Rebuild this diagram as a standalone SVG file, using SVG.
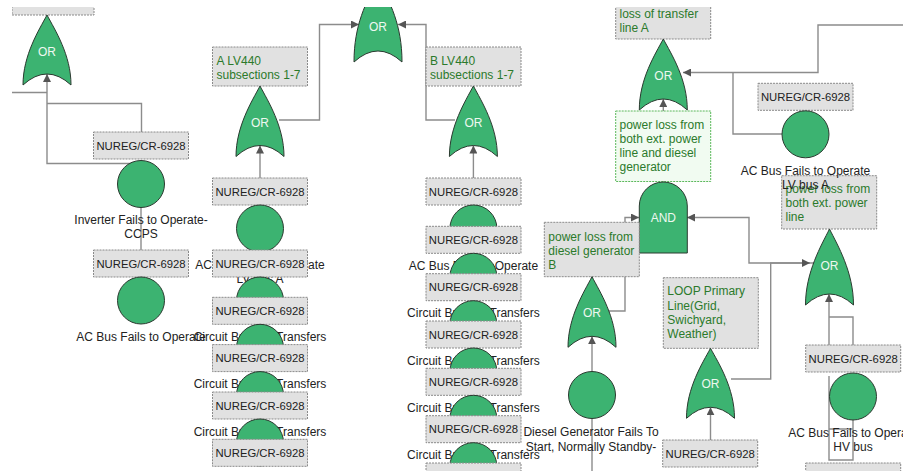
<svg xmlns="http://www.w3.org/2000/svg" width="903" height="471" viewBox="0 0 903 471">
<style>
  text { font-family: "Liberation Sans", Arial, sans-serif; font-size: 12px; }
  .edge { fill: none; stroke: #8c8c8c; stroke-width: 1.4; }
  .arr { marker-end: url(#ah); }
  .gate { fill: #3cb371; stroke: #2b3a30; stroke-width: 1; }
  .glab { fill: #eef8f0; text-anchor: middle; }
  .ev { fill: #3cb371; stroke: #2b3a30; stroke-width: 1; }
  .ref { fill: #e1e1e1; stroke: #8a8a8a; stroke-width: 1; stroke-dasharray: 2 1; }
  .reft { fill: #222; font-size: 11.3px; text-anchor: middle; }
  .desc { fill: #222; text-anchor: middle; }
  .gt { fill: #2b7a2b; }
  .note { fill: #f1fbf1; stroke: #5cb85c; stroke-width: 1; stroke-dasharray: 2 1; }
</style>
<defs>
  <marker id="ah" viewBox="0 0 8 8" refX="8" refY="4" markerWidth="8" markerHeight="8" markerUnits="userSpaceOnUse" orient="auto">
    <path d="M0,0 L8,4 L0,8 Z" fill="#555"/>
  </marker>
  <clipPath id="view"><rect x="12" y="7" width="891" height="464"/></clipPath>
</defs>
<rect width="903" height="471" fill="#fff"/>
<g clip-path="url(#view)">

<!-- connectors -->
<g id="connectors">
  <path class="edge" d="M12,92.5 H47"/>
  <path class="edge arr" d="M141,163.5 H47 V74"/>
  <path class="edge" d="M141.5,132 V103.5 H47"/>
  <path class="edge" d="M141,207 V250"/>
  <path class="edge arr" d="M260,178 V145.5"/>
  <path class="edge arr" d="M279,120 H319.5 V24.5 H359"/>
  <path class="edge arr" d="M455,120 H426 V24.5 H398"/>
  <path class="edge arr" d="M473.4,178 V145.5"/>
  <path class="edge arr" d="M903,25 H818 V72.5 H683"/>
  <path class="edge" d="M805,134 H733 V72.5"/>
  <path class="edge arr" d="M663.3,182 V99"/>
  <path class="edge arr" d="M606,311 H625 V217.5 H639"/>
  <path class="edge arr" d="M829,263 H749 V217.5 H687"/>
  <path class="edge arr" d="M731,379 H770.7 V263 H810"/>
  <path class="edge arr" d="M710.5,440 V407.3"/>
  <path class="edge arr" d="M592,372 V336.3"/>
  <path class="edge" d="M592,418 V471"/>
  <path class="edge arr" d="M829,345 V294"/>
  <path class="edge" d="M853,345 V317 H829"/>
  <path class="edge" d="M829,376 V460 H853 V418 M829,429 H853"/>
</g>

<!-- left branch -->
<g id="top-left-ref">
  <rect class="ref" x="12" y="-12" width="82" height="27"/>
</g>
<g id="or-left">
  <path class="gate" d="M23,85 C23,55 39,30 47,15 C55,30 71,55 71,85 Q47,63 23,85 Z"/>
  <text class="glab" x="47" y="56">OR</text>
</g>
<g id="inverter-ccps">
  <rect class="ref" x="93.5" y="132" width="95" height="27"/>
  <text class="reft" x="141" y="149.5">NUREG/CR-6928</text>
  <circle class="ev" cx="141" cy="184" r="23.5"/>
  <text class="desc" x="141" y="224">Inverter Fails to Operate-</text>
  <text class="desc" x="141" y="238">CCPS</text>
</g>
<g id="acbus-left">
  <rect class="ref" x="93.5" y="250" width="95" height="27"/>
  <text class="reft" x="141" y="267.5">NUREG/CR-6928</text>
  <circle class="ev" cx="141" cy="300.5" r="23.5"/>
  <text class="desc" x="141" y="341">AC Bus Fails to Operate</text>
</g>

<!-- top OR -->
<g id="or-top">
  <path class="gate" d="M354,62 C354,25 366,2 378,-20 C390,2 402,25 402,62 Q378,40 354,62 Z"/>
  <text class="glab" x="378" y="31">OR</text>
</g>

<!-- LV440 A branch -->
<g id="lv440-a">
  <rect class="ref" x="212.5" y="47" width="95" height="39"/>
  <text class="gt" x="216.5" y="65.3">A LV440</text>
  <text class="gt" x="216.5" y="78.6">subsections 1-7</text>
  <path class="gate" d="M236,156.5 C236,126.5 252,101 260,86 C268,101 284,126.5 284,156.5 Q260,134.5 236,156.5 Z"/>
  <text class="glab" x="260" y="127">OR</text>
</g>
<g id="a-acbus">
  <rect class="ref" x="212.5" y="178" width="95" height="27"/>
  <text class="reft" x="260" y="195.5">NUREG/CR-6928</text>
  <circle class="ev" cx="260" cy="228.5" r="23.5"/>
  <text class="desc" x="260" y="269">AC Bus Fails to Operate</text>
  <text class="desc" x="260" y="283">LV bus A</text>
</g>
<g id="a-cb1">
  <rect class="ref" x="212.5" y="250" width="95" height="27"/>
  <text class="reft" x="260" y="267.5">NUREG/CR-6928</text>
  <circle class="ev" cx="260" cy="300.5" r="23.5"/>
  <text class="desc" x="260" y="341">Circuit Breaker Transfers</text>
</g>
<g id="a-cb2">
  <rect class="ref" x="212.5" y="297.3" width="95" height="27"/>
  <text class="reft" x="260" y="314.8">NUREG/CR-6928</text>
  <circle class="ev" cx="260" cy="347.8" r="23.5"/>
  <text class="desc" x="260" y="388.3">Circuit Breaker Transfers</text>
</g>
<g id="a-cb3">
  <rect class="ref" x="212.5" y="344.6" width="95" height="27"/>
  <text class="reft" x="260" y="362.1">NUREG/CR-6928</text>
  <circle class="ev" cx="260" cy="395.1" r="23.5"/>
  <text class="desc" x="260" y="435.6">Circuit Breaker Transfers</text>
</g>
<g id="a-cb4">
  <rect class="ref" x="212.5" y="392" width="95" height="27"/>
  <text class="reft" x="260" y="409.5">NUREG/CR-6928</text>
  <circle class="ev" cx="260" cy="442.5" r="23.5"/>
</g>
<g id="a-cb5">
  <rect class="ref" x="212.5" y="439.3" width="95" height="27"/>
  <text class="reft" x="260" y="456.8">NUREG/CR-6928</text>
</g>

<!-- LV440 B branch -->
<g id="lv440-b">
  <rect class="ref" x="426" y="47" width="95" height="39"/>
  <text class="gt" x="430" y="65.3">B LV440</text>
  <text class="gt" x="430" y="78.6">subsections 1-7</text>
  <path class="gate" d="M449.4,156.5 C449.4,126.5 465.4,101 473.4,86 C481.4,101 497.4,126.5 497.4,156.5 Q473.4,134.5 449.4,156.5 Z"/>
  <text class="glab" x="473.4" y="127">OR</text>
</g>
<g id="b-acbus">
  <rect class="ref" x="426" y="178" width="95" height="27"/>
  <text class="reft" x="473.4" y="195.5">NUREG/CR-6928</text>
  <circle class="ev" cx="473.4" cy="228.5" r="23.5"/>
  <text class="desc" x="473.4" y="269.5">AC Bus Fails to Operate</text>
</g>
<g id="b-cb1">
  <rect class="ref" x="426" y="226.3" width="95" height="27"/>
  <text class="reft" x="473.4" y="243.8">NUREG/CR-6928</text>
  <circle class="ev" cx="473.4" cy="276.8" r="23.5"/>
  <text class="desc" x="473.4" y="317.3">Circuit Breaker Transfers</text>
</g>
<g id="b-cb2">
  <rect class="ref" x="426" y="273.7" width="95" height="27"/>
  <text class="reft" x="473.4" y="291.2">NUREG/CR-6928</text>
  <circle class="ev" cx="473.4" cy="324.2" r="23.5"/>
  <text class="desc" x="473.4" y="364.7">Circuit Breaker Transfers</text>
</g>
<g id="b-cb3">
  <rect class="ref" x="426" y="321" width="95" height="27"/>
  <text class="reft" x="473.4" y="338.5">NUREG/CR-6928</text>
  <circle class="ev" cx="473.4" cy="371.5" r="23.5"/>
  <text class="desc" x="473.4" y="412">Circuit Breaker Transfers</text>
</g>
<g id="b-cb4">
  <rect class="ref" x="426" y="368.3" width="95" height="27"/>
  <text class="reft" x="473.4" y="385.8">NUREG/CR-6928</text>
  <circle class="ev" cx="473.4" cy="418.8" r="23.5"/>
  <text class="desc" x="473.4" y="459.3">Circuit Breaker Transfers</text>
</g>
<g id="b-cb5">
  <rect class="ref" x="426" y="415.7" width="95" height="27"/>
  <text class="reft" x="473.4" y="433.2">NUREG/CR-6928</text>
  <circle class="ev" cx="473.4" cy="466.2" r="23.5"/>
</g>
<g id="b-cb6">
  <rect class="ref" x="426" y="463" width="95" height="27"/>
</g>

<!-- transfer line A -->
<g id="transfer-a">
  <rect class="ref" x="615.7" y="-6" width="95" height="45"/>
  <text class="gt" x="619.5" y="17.5">loss of transfer</text>
  <text class="gt" x="619.5" y="31.5">line A</text>
  <path class="gate" d="M639.3,110 C639.3,79 655.3,54 663.3,39 C671.3,54 687.3,79 687.3,110 Q663.3,88 639.3,110 Z"/>
  <text class="glab" x="663.3" y="79.5">OR</text>
</g>
<g id="both-loss">
  <rect class="note" x="615.7" y="111" width="95" height="70.5"/>
  <text class="gt" x="619.5" y="128.5">power loss from</text>
  <text class="gt" x="619.5" y="142.8">both ext. power</text>
  <text class="gt" x="619.5" y="157">line and diesel</text>
  <text class="gt" x="619.5" y="171.3">generator</text>
  <path class="gate" d="M639.3,253 V206 A24,24 0 0 1 687.3,206 V253 Z"/>
  <text class="glab" x="663.3" y="221.8">AND</text>
</g>
<g id="ext-line">
  <rect class="ref" x="781.7" y="175.7" width="95" height="53.3"/>
  <text class="gt" x="785.5" y="192.5">power loss from</text>
  <text class="gt" x="785.5" y="206.8">both ext. power</text>
  <text class="gt" x="785.5" y="221">line</text>
  <path class="gate" d="M805.5,305 C805.5,272 821.5,245 829.5,229 C837.5,245 853.5,272 853.5,305 Q829.5,283 805.5,305 Z"/>
  <text class="glab" x="829.5" y="269.5">OR</text>
</g>
<g id="acbus-lv-a">
  <rect class="ref" x="758" y="83.3" width="95" height="27"/>
  <text class="reft" x="805.5" y="100.8">NUREG/CR-6928</text>
  <circle class="ev" cx="805.5" cy="134.3" r="23.5"/>
  <text class="desc" x="805.5" y="175.3">AC Bus Fails to Operate</text>
  <text class="desc" x="805.5" y="189.3">LV bus A</text>
</g>

<!-- diesel generator B -->
<g id="diesel-b">
  <rect class="ref" x="544.3" y="222.3" width="95" height="54.4"/>
  <text class="gt" x="548.3" y="240.8">power loss from</text>
  <text class="gt" x="548.3" y="255">diesel generator</text>
  <text class="gt" x="548.3" y="269.2">B</text>
  <path class="gate" d="M568,347.3 C568,317 584,292 592,276.7 C600,292 616,317 616,347.3 Q592,325.3 568,347.3 Z"/>
  <text class="glab" x="592" y="316.5">OR</text>
</g>
<g id="diesel-start">
  <circle class="ev" cx="592" cy="395" r="23.5"/>
  <text class="desc" x="591" y="436.3">Diesel Generator Fails To</text>
  <text class="desc" x="591" y="450.6">Start, Normally Standby-</text>
</g>

<!-- LOOP primary line -->
<g id="loop-primary">
  <rect class="ref" x="663.3" y="277.7" width="95" height="70.6"/>
  <text class="gt" x="667.3" y="295.3">LOOP Primary</text>
  <text class="gt" x="667.3" y="309.6">Line(Grid,</text>
  <text class="gt" x="667.3" y="323.9">Swichyard,</text>
  <text class="gt" x="667.3" y="338.2">Weather)</text>
  <path class="gate" d="M686.5,418.3 C686.5,388 702.5,363 710.5,348.3 C718.5,363 734.5,388 734.5,418.3 Q710.5,396.3 686.5,418.3 Z"/>
  <text class="glab" x="710.5" y="388">OR</text>
</g>
<g id="loop-ref">
  <rect class="ref" x="662.7" y="440" width="95" height="27"/>
  <text class="reft" x="710.2" y="457.5">NUREG/CR-6928</text>
</g>

<!-- HV bus -->
<g id="acbus-hv">
  <rect class="ref" x="805.7" y="345" width="95" height="27"/>
  <text class="reft" x="853.2" y="362.5">NUREG/CR-6928</text>
  <circle class="ev" cx="853" cy="396.5" r="23.5"/>
  <text class="desc" x="853" y="436.7">AC Bus Fails to Operate</text>
  <text class="desc" x="853" y="451">HV bus</text>
</g>
<g id="hv-next">
  <rect class="ref" x="805.7" y="463" width="95" height="27"/>
</g>
</g>
</svg>
